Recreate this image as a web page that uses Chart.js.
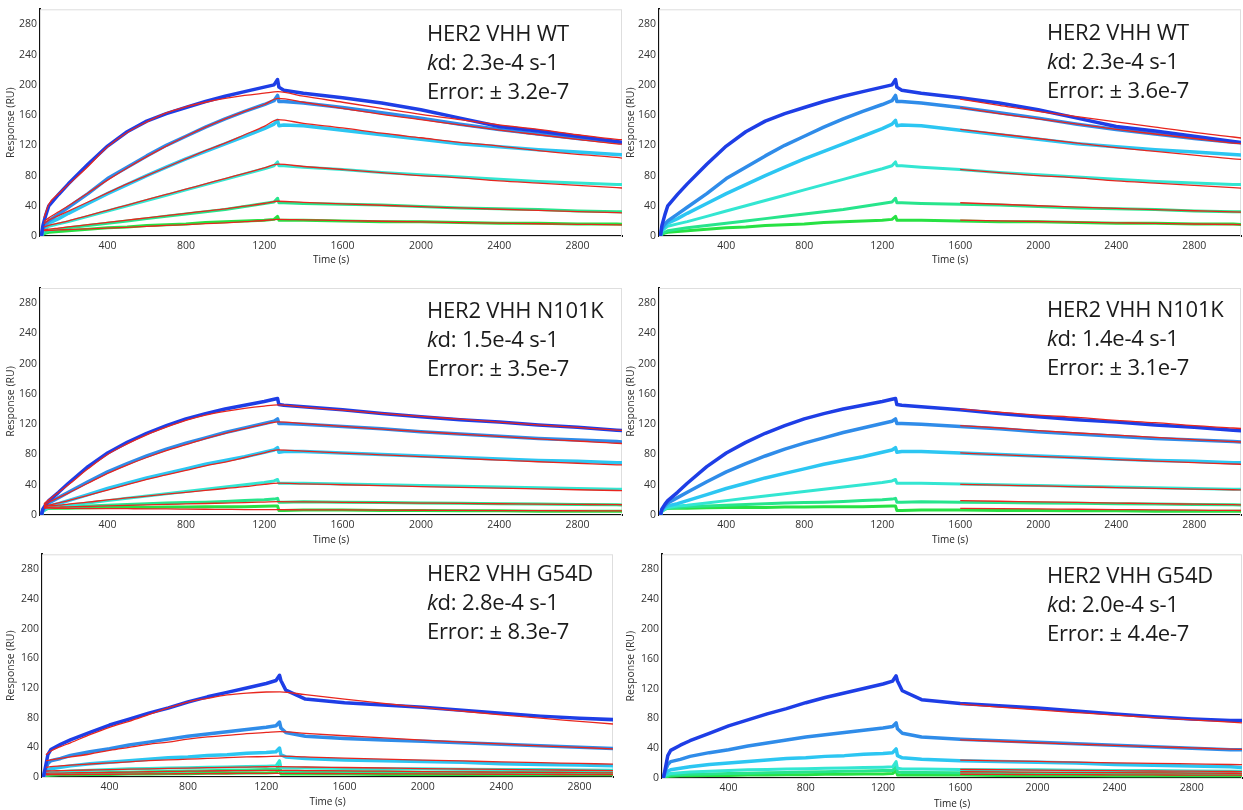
<!DOCTYPE html>
<html>
<head>
<meta charset="utf-8">
<script src="https://cdn.jsdelivr.net/npm/chart.js@4.4.1/dist/chart.umd.min.js"></script>
<style>
  body { margin: 0; background: #fff; width: 1243px; height: 810px; position: relative; overflow: hidden; font-family: "Open Sans", sans-serif; }
  canvas { position: absolute; }
  .note { position: absolute; font-size: 22px; line-height: 29px; color: #1b1b1b; white-space: nowrap; letter-spacing: -0.2px; }
</style>
</head>
<body>
<script>
// sampling times (s)
const runTime = [62, 70, 85, 100, 150, 200, 300, 400, 500, 600, 700, 800, 900, 1000, 1100, 1200, 1250, 1268, 1275, 1300, 1400, 1600, 1800, 2000, 2200, 2400, 2600, 2800, 3000, 3060];
const globalFitTime = [75, 100, 150, 200, 300, 400, 500, 600, 700, 800, 900, 1000, 1100, 1200, 1270, 1400, 1600, 1800, 2000, 2200, 2400, 2600, 2800, 3000, 3060];
const dissocFitTime = [1600, 1800, 2000, 2200, 2400, 2600, 2800, 3000, 3060];
const xTicks = [400, 800, 1200, 1600, 2000, 2400, 2800];
const yTicks = [0, 40, 80, 120, 160, 200, 240, 280];

// HER2 VHH WT sensorgrams (RU), highest to lowest concentration
const wt1 = [0, 14, 28, 40, 55, 69, 95, 119, 138, 152, 162, 170, 178, 185, 191, 197, 200, 207, 197, 193, 189, 183, 176, 167, 156, 145, 139, 132, 125, 123];
const wt2 = [0, 10, 16, 20, 29, 38, 56, 76, 91, 106, 120, 132, 144, 155, 165, 174, 179, 186, 178, 178, 176, 170, 163, 156, 148, 141, 135, 129, 124, 123];
const wt3 = [0, 8, 13, 17, 23, 30, 43, 56, 68, 80, 91, 102, 112, 122, 132, 142, 148, 153, 146, 147, 146, 140, 134, 128, 122, 118, 114, 111, 108, 107];
const wt4 = [0, 6, 10, 13, 16, 19, 26, 33, 40, 47, 54, 61, 68, 75, 82, 89, 93, 98, 93, 93, 91, 88, 84, 81, 78, 75, 72, 70, 68, 68];
const wt5 = [0, 3, 5, 7, 9, 11, 14, 17, 20, 23, 26, 29, 32, 35, 39, 43, 45, 50, 44, 44, 43, 42, 41, 39, 37, 36, 35, 33, 32, 32];
const wt6 = [0, 2, 4, 5, 6, 7, 9, 11, 12, 14, 15, 16, 18, 19, 20, 21, 22, 26, 21, 21, 21, 20, 19, 19, 18, 17, 17, 16, 16, 15];
// global fits (left) and dissociation-only fits (right)
const wtFit1 = [24, 42, 56, 68, 92, 118, 137, 151, 163, 171, 177, 182, 186, 189, 191, 185, 177, 169, 161, 154, 147, 141, 134, 128, 127];
const wtFit2 = [19, 24, 32, 40, 57, 74, 90, 105, 119, 132, 144, 155, 165, 174, 182, 177, 169, 161, 154, 147, 140, 134, 128, 122, 121];
const wtFit3 = [16, 21, 27, 33, 45, 57, 69, 80, 91, 102, 113, 123, 134, 145, 154, 149, 143, 136, 130, 124, 119, 113, 108, 104, 102];
const wtFit4 = [12, 14, 17, 20, 27, 34, 41, 48, 55, 62, 69, 76, 83, 90, 95, 92, 88, 84, 80, 77, 73, 70, 67, 64, 63];
const wtFit5 = [8, 9, 10.5, 12, 15, 18, 21, 24, 27, 30, 33, 36, 39.5, 43, 46, 44.6, 42.6, 40.7, 38.8, 37.1, 35.4, 33.8, 32.3, 30.9, 30.5];
const wtFit6 = [7, 7.5, 8, 8.5, 9.5, 10.5, 11.5, 12.7, 14, 15, 16.3, 17.5, 19, 20.5, 22, 21.4, 20.4, 19.5, 18.6, 17.8, 17, 16.2, 15.5, 14.8, 14.6];
const wtDis1 = [181, 173, 165, 158, 151, 144, 137, 131, 129];
const wtDis2 = [170, 162, 155, 148, 141, 135, 129, 123, 122];
const wtDis3 = [141, 135, 129, 123, 117, 112, 107, 102, 101];
const wtDis4 = [88, 84, 80, 77, 73, 70, 67, 64, 63];
const wtDis5 = [44, 42, 40, 38.3, 36.6, 34.9, 33.4, 31.9, 31.5];
const wtDis6 = [21, 20.1, 19.2, 18.3, 17.5, 16.7, 15.9, 15.2, 15];

// HER2 VHH N101K
const nk1 = [0, 8, 14, 19, 30, 42, 64, 82, 96, 108, 118, 127, 134, 140, 145, 150, 153, 154, 146, 145, 143, 139, 134, 130, 126, 123, 119, 116, 112, 111];
const nk2 = [0, 7, 12, 16, 23, 30, 44, 57, 68, 78, 87, 95, 102, 109, 115, 121, 124, 127, 121, 121, 120, 117, 114, 110, 107, 104, 101, 99, 97, 96];
const nk3 = [0, 6, 10, 12, 15, 19, 27, 35, 42, 49, 55, 61, 67, 72, 77, 83, 86, 89, 83, 84, 84, 82, 80, 78, 76, 74, 72, 71, 69, 69];
const nk4 = [0, 5, 8, 10, 12, 13, 16, 19, 22, 25, 28, 31, 34, 37, 40, 43, 45, 47, 42, 42, 42, 41, 40, 39, 38, 37, 36, 35, 34, 34];
const nk5 = [0, 5, 8, 9, 10, 11, 12, 13, 14, 15, 16, 16.5, 17, 18, 19, 20, 21, 22, 17, 17, 17.5, 17, 16.5, 16, 15.5, 15, 14.5, 14, 13.5, 13];
const nk6 = [0, 5, 8, 9, 9, 9, 9.5, 10, 10, 10, 10.5, 10.5, 11, 11, 11, 11.5, 12, 12, 6, 6, 6.5, 6.5, 6, 6, 5.5, 5.5, 5, 5, 5, 5];
const nkFit1 = [15, 20, 30, 40, 61, 80, 94, 106, 116, 125, 132, 137, 141, 144, 145.5, 142.7, 138.5, 134.4, 130.4, 126.6, 122.8, 119.2, 115.7, 112.2, 111.4];
const nkFit2 = [13, 17, 23, 29, 42, 55, 66, 76, 85, 93, 101, 108, 114, 120, 123, 120.7, 117.1, 113.6, 110.2, 107, 103.8, 100.7, 97.8, 94.8, 94.2];
const nkFit3 = [12, 13, 16, 19, 26, 33, 40, 47, 53, 59, 65, 70, 76, 82, 86, 84.4, 81.9, 79.5, 77.1, 74.8, 72.6, 70.4, 68.4, 66.3, 65.9];
const nkFit4 = [11, 12, 13, 14.5, 17, 20, 22.5, 25, 27.5, 30, 32.5, 35, 37.5, 40.5, 42, 41.2, 40, 38.8, 37.6, 36.5, 35.4, 34.4, 33.4, 32.4, 32.2];
const nkFit5 = [10, 10.2, 10.5, 10.8, 11.5, 12, 12.7, 13.3, 14, 14.6, 15.2, 15.8, 16.4, 17.1, 17.6, 17.3, 16.8, 16.3, 15.8, 15.3, 14.9, 14.4, 14, 13.6, 13.5];
const nkFit6 = [9, 9, 8.9, 8.8, 8.6, 8.5, 8.3, 8.1, 8, 7.8, 7.6, 7.4, 7.2, 7.1, 7, 6.9, 6.7, 6.5, 6.3, 6.1, 5.9, 5.7, 5.6, 5.4, 5.4];
const nkDis1 = [140, 136, 132, 129, 125, 122, 118, 115, 114];
const nkDis2 = [118, 115, 111.5, 108.4, 105.5, 102.5, 99.7, 97, 96.2];
const nkDis3 = [82, 79.7, 77.5, 75.4, 73.3, 71.3, 69.3, 67.4, 66.8];
const nkDis4 = [40.6, 39.5, 38.4, 37.3, 36.3, 35.3, 34.3, 33.4, 33.1];
const nkDis5 = [19, 18.2, 17.4, 16.6, 15.8, 15, 14.3, 13.6, 13.4];
const nkDis6 = [8.8, 8.4, 8, 7.6, 7.2, 6.8, 6.4, 6, 5.9];

// HER2 VHH G54D
const gd1 = [0, 10, 30, 37, 44, 50, 60, 70, 78, 86, 93, 101, 108, 114, 120, 126, 130, 137, 130, 117, 105, 100, 97, 94, 90, 86, 82, 79, 77, 77];
const gd2 = [0, 8, 18, 22, 25, 29, 34, 38, 43, 47, 51, 55, 58, 61, 64, 67, 69, 74, 66, 60, 55, 52, 50, 48, 46, 44, 42, 40, 38, 38];
const gd3 = [0, 5, 9, 11, 13, 15, 18, 20, 22, 24, 26, 27, 29, 30, 32, 33, 34, 39, 30, 27, 25, 23, 22, 21, 20, 18, 17, 16, 15, 14];
const gd4 = [0, 3, 5, 6, 7, 8, 9, 10, 11, 11.5, 12, 12.5, 13, 13.5, 14, 14.5, 15, 22, 13, 12, 12, 11.5, 11, 11, 10.5, 10, 10, 9.5, 9, 9];
const gd5 = [0, 2, 3, 4, 4.5, 5, 5.5, 6, 6.5, 7, 7.5, 8, 8.5, 9, 9.5, 10, 10, 16, 8, 7.5, 7.5, 7, 7, 6.5, 6.5, 6, 6, 6, 5.5, 5.5];
const gd6 = [0, 1, 2, 2.5, 3, 3, 3.5, 3.5, 4, 4, 4.5, 4.5, 5, 5, 5.5, 5.5, 6, 10, 4, 4, 4, 4, 3.5, 3.5, 3.5, 3, 3, 3, 3, 3];
const gdFit1 = [30, 35, 41, 46, 57, 67, 75, 84, 93, 101, 106, 110.5, 113, 114.5, 114.8, 110.9, 104.9, 99.1, 93.7, 88.7, 83.8, 79.2, 75, 70.8, 69.7];
const gdFit2 = [22, 23, 25, 27, 31, 36, 40, 44, 47, 51, 54, 56, 58.5, 60, 61, 58.8, 55.6, 52.6, 49.7, 47, 44.5, 42, 39.8, 37.6, 37];
const gdFit3 = [13, 14, 15, 16, 17.5, 19, 20.5, 22, 23, 24, 25, 26, 27, 27.5, 28, 27, 25.5, 24.1, 22.8, 21.6, 20.4, 19.3, 18.3, 17.2, 17];
const gdFit4 = [8, 8.2, 8.5, 8.8, 9.4, 10, 10.5, 11, 11.5, 12, 12.5, 13, 13.4, 13.8, 14, 13.5, 12.8, 12.1, 11.4, 10.8, 10.2, 9.7, 9.1, 8.6, 8.5];
const gdFit5 = [5, 5.1, 5.3, 5.5, 5.9, 6.3, 6.7, 7.1, 7.5, 7.8, 8.1, 8.4, 8.7, 8.9, 9, 8.7, 8.2, 7.8, 7.3, 6.9, 6.6, 6.2, 5.9, 5.5, 5.4];
const gdFit6 = [3, 3.1, 3.2, 3.3, 3.5, 3.7, 3.9, 4.1, 4.3, 4.5, 4.6, 4.7, 4.8, 4.9, 5, 4.8, 4.6, 4.3, 4.1, 3.9, 3.7, 3.5, 3.3, 3.1, 3.1];
const gdDis1 = [99, 95.1, 91.4, 87.8, 84.3, 81.1, 77.9, 74.8, 74];
const gdDis2 = [51.3, 49.3, 47.3, 45.5, 43.7, 42, 40.4, 38.8, 38.3];
const gdDis3 = [24, 23.1, 22.2, 21.3, 20.4, 19.7, 18.9, 18.1, 17.9];
const gdDis4 = [11.5, 11.1, 10.6, 10.2, 9.8, 9.4, 9.1, 8.7, 8.6];
const gdDis5 = [8.4, 8.1, 7.8, 7.5, 7.2, 6.9, 6.6, 6.4, 6.3];
const gdDis6 = [5, 4.8, 4.6, 4.4, 4.3, 4.1, 3.9, 3.8, 3.7];

const runColors = ["#1e3ee6", "#2f8ce9", "#2cc6f2", "#33e6d2", "#27e58c", "#27e143"];
const fitColor = "#e8261e";

// panel placement (page pixels)
const panels = [
  { left: 0, top: 0, w: 625, h: 270, axisX: 40, plotRight: 622, plotTop: 9, y0: 236, xmax: 3027, titleGap: 4,
    runs: [wt1, wt2, wt3, wt4, wt5, wt6], fits: [wtFit1, wtFit2, wtFit3, wtFit4, wtFit5, wtFit6], fitTime: globalFitTime,
    note: ["HER2 VHH WT", "2.3e-4 s-1", "Error: \u00b1 3.2e-7"], noteX: 427, noteY: 18 },
  { left: 620, top: 0, w: 623, h: 270, axisX: 659, plotRight: 1241, plotTop: 9, y0: 236, xmax: 3040, titleGap: 4,
    runs: [wt1, wt2, wt3, wt4, wt5, wt6], fits: [wtDis1, wtDis2, wtDis3, wtDis4, wtDis5, wtDis6], fitTime: dissocFitTime,
    note: ["HER2 VHH WT", "2.3e-4 s-1", "Error: \u00b1 3.6e-7"], noteX: 1047, noteY: 17 },
  { left: 0, top: 272, w: 625, h: 278, axisX: 40, plotRight: 622, plotTop: 288, y0: 515, xmax: 3027, titleGap: 4,
    runs: [nk1, nk2, nk3, nk4, nk5, nk6], fits: [nkFit1, nkFit2, nkFit3, nkFit4, nkFit5, nkFit6], fitTime: globalFitTime,
    note: ["HER2 VHH N101K", "1.5e-4 s-1", "Error: \u00b1 3.5e-7"], noteX: 427, noteY: 295 },
  { left: 620, top: 272, w: 623, h: 278, axisX: 659, plotRight: 1241, plotTop: 288, y0: 515, xmax: 3040, titleGap: 4,
    runs: [nk1, nk2, nk3, nk4, nk5, nk6], fits: [nkDis1, nkDis2, nkDis3, nkDis4, nkDis5, nkDis6], fitTime: dissocFitTime,
    note: ["HER2 VHH N101K", "1.4e-4 s-1", "Error: \u00b1 3.1e-7"], noteX: 1047, noteY: 294 },
  { left: 0, top: 545, w: 625, h: 265, axisX: 42, plotRight: 613, plotTop: 554, y0: 777, xmax: 2971, titleGap: 2,
    runs: [gd1, gd2, gd3, gd4, gd5, gd6], fits: [gdFit1, gdFit2, gdFit3, gdFit4, gdFit5, gdFit6], fitTime: globalFitTime,
    note: ["HER2 VHH G54D", "2.8e-4 s-1", "Error: \u00b1 8.3e-7"], noteX: 427, noteY: 558 },
  { left: 620, top: 545, w: 623, h: 265, axisX: 662, plotRight: 1242, plotTop: 552, y0: 778, xmax: 3060, titleGap: 0,
    runs: [gd1, gd2, gd3, gd4, gd5, gd6], fits: [gdDis1, gdDis2, gdDis3, gdDis4, gdDis5, gdDis6], fitTime: dissocFitTime,
    note: ["HER2 VHH G54D", "2.0e-4 s-1", "Error: \u00b1 4.4e-7"], noteX: 1047, noteY: 560 }
];

const framePlugin = {
  id: "frame",
  beforeDatasetsDraw(chart) {
    const a = chart.chartArea, ctx = chart.ctx;
    ctx.save();
    ctx.strokeStyle = "#dedede";
    ctx.lineWidth = 1;
    ctx.strokeRect(a.left + 0.5, a.top + 0.5, a.right - a.left - 1, a.bottom - a.top);
    ctx.restore();
  }
};

const tickFont = { family: "'Open Sans', sans-serif", size: 10.5 };
const plainNumber = v => String(v);

panels.forEach(p => {
  const canvas = document.createElement("canvas");
  canvas.width = p.w;
  canvas.height = p.h;
  canvas.style.left = p.left + "px";
  canvas.style.top = p.top + "px";
  document.body.appendChild(canvas);

  const datasets = [];
  p.fits.forEach(f => datasets.push({
    data: p.fitTime.map((t, i) => ({ x: t, y: f[i] })),
    borderColor: fitColor, borderWidth: 1.3, pointRadius: 0, cubicInterpolationMode: "monotone", order: 0
  }));
  p.runs.forEach((r, k) => datasets.push({
    data: runTime.map((t, i) => ({ x: t, y: r[i] })),
    borderColor: runColors[k], borderWidth: k < 3 ? 3.5 : 3, borderJoinStyle: "round",
    pointRadius: 0, tension: 0, order: 1 + k
  }));

  new Chart(canvas, {
    type: "line",
    data: { datasets },
    plugins: [framePlugin],
    options: {
      responsive: false,
      animation: false,
      layout: { padding: { top: p.plotTop - p.top, right: p.left + p.w - p.plotRight, left: 0, bottom: 0 } },
      plugins: { legend: { display: false }, tooltip: { enabled: false } },
      scales: {
        x: {
          type: "linear", min: 55, max: p.xmax,
          afterBuildTicks: s => { s.ticks = xTicks.map(v => ({ value: v })); },
          afterFit: s => { s.height = p.top + p.h - p.y0; },
          grid: { display: false, drawTicks: false },
          border: { display: true, color: "#111", width: 2 },
          ticks: { font: tickFont, color: "#333", padding: 4, maxRotation: 0, callback: plainNumber },
          title: { display: true, text: "Time (s)", font: { family: "'Open Sans', sans-serif", size: 10 }, color: "#222", padding: { top: 0, bottom: p.titleGap } }
        },
        y: {
          min: 0, max: 300,
          afterBuildTicks: s => { s.ticks = yTicks.map(v => ({ value: v })); },
          afterFit: s => { s.width = p.axisX - p.left; },
          grid: { display: false, drawTicks: false },
          border: { display: true, color: "#111", width: 2 },
          ticks: { font: tickFont, color: "#333", padding: 3, callback: plainNumber },
          title: { display: true, text: "Response (RU)", font: { family: "'Open Sans', sans-serif", size: 10.5 }, color: "#333", padding: { top: 5, bottom: 0 } }
        }
      }
    }
  });

  const note = document.createElement("div");
  note.className = "note";
  note.style.left = p.noteX + "px";
  note.style.top = p.noteY + "px";
  note.innerHTML = p.note[0] + "<br><i>k</i>d: " + p.note[1] + "<br>" + p.note[2];
  document.body.appendChild(note);
});
</script>
</body>
</html>
